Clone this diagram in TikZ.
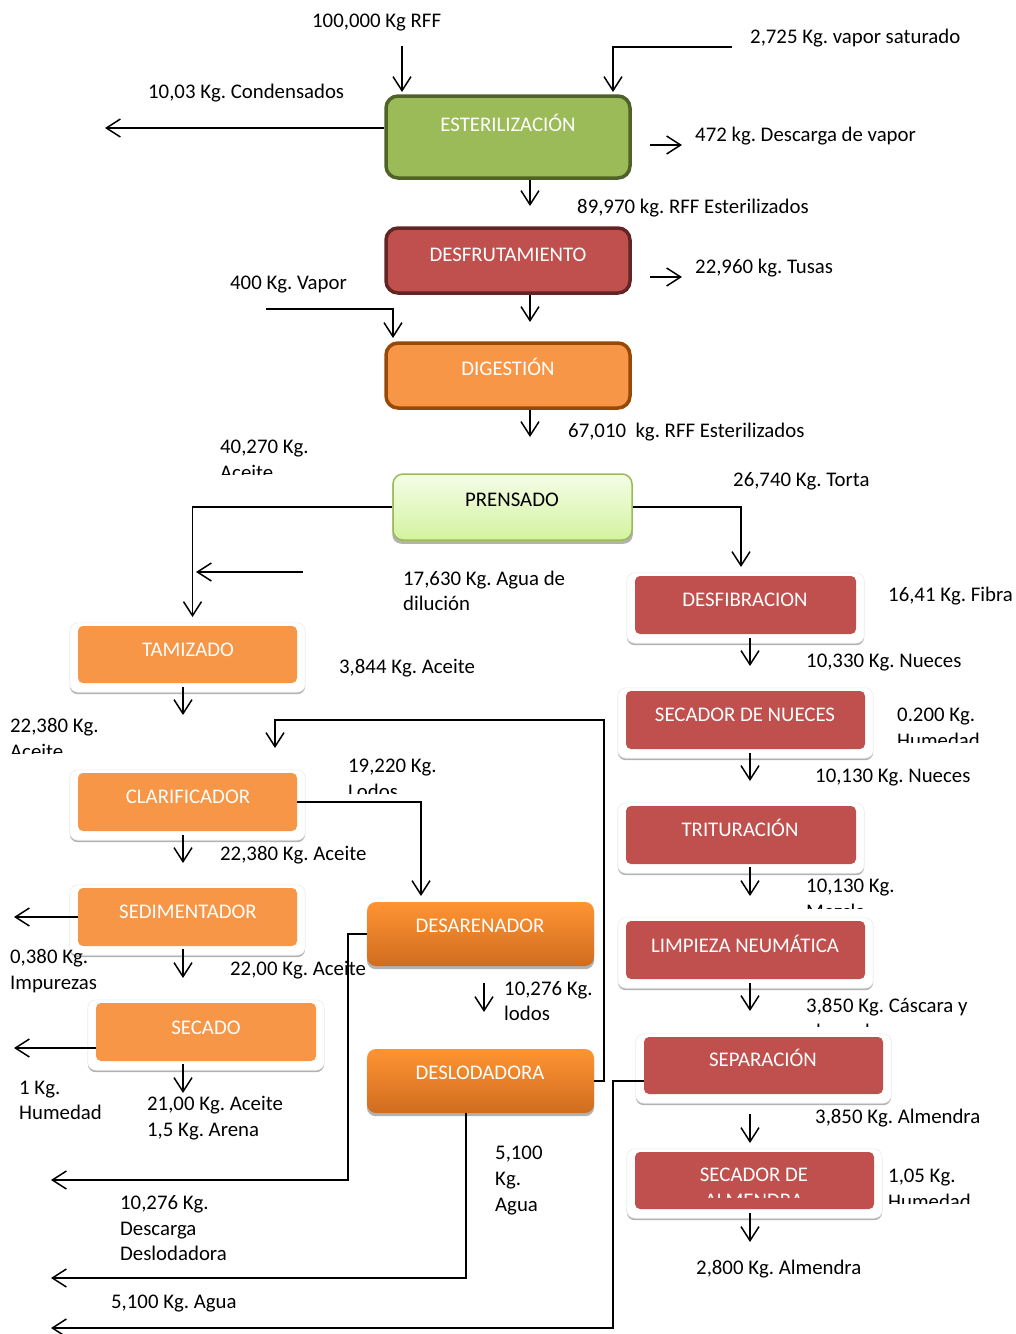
\documentclass[tikz,border=0pt]{standalone}
\usepackage{fontspec}
\setmainfont{Carlito}
\usetikzlibrary{arrows.meta,backgrounds}
\definecolor{grn}{HTML}{9BBB59}
\definecolor{grnd}{HTML}{4F6228}
\definecolor{rd}{HTML}{C0504D}
\definecolor{rdd}{HTML}{632523}
\definecolor{org}{HTML}{F79646}
\definecolor{orgd}{HTML}{984807}
\definecolor{prtop}{HTML}{F4FDE8}
\definecolor{prbot}{HTML}{D3F39E}
\definecolor{dtop}{HTML}{FF9433}
\definecolor{dbot}{HTML}{CF6C1F}
\newcommand\lbfont{\fontsize{20.8}{25.5}\selectfont}
\frenchspacing
\begin{document}
\begin{tikzpicture}[x=1pt,y=-1pt,
  arr/.style={line width=1.5pt,-{Straight Barb[length=14pt,width=18pt,line width=1.5pt]}},
  lbl/.style={font=\lbfont,inner sep=0pt,anchor=base west},
  btxt/.style={font=\lbfont,inner sep=0pt,anchor=base,text=white},
  bigbox/.style={rectangle,rounded corners=12pt,line width=3.5pt,inner sep=0pt,minimum width=244pt,minimum height=65pt},
  flat/.style={rectangle,rounded corners=5pt,inner sep=0pt,minimum height=58pt,fill=#1},
  dbox/.style={rectangle,rounded corners=9pt,top color=dtop,bottom color=dbot,inner sep=0pt,minimum width=227pt,minimum height=64pt},
  prbox/.style={rectangle,rounded corners=10pt,draw=grn,line width=1.5pt,top color=prtop,bottom color=prbot,inner sep=0pt,minimum width=239pt,minimum height=66pt}
]
\useasboundingbox (0,0) rectangle (1016,1334);

% ---------- boxes ----------
\node[bigbox,fill=grn,draw=grnd,minimum height=82pt] (est) at (508,137) {};
\node[bigbox,fill=rd,draw=rdd] (desf) at (508,260.5) {};
\node[bigbox,fill=org,draw=orgd] (dig) at (508,375.5) {};
\node[prbox] (pren) at (512.5,507) {};
\node[flat=org,minimum width=219pt,minimum height=57pt] (tam) at (187.5,654.5) {};
\node[flat=org,minimum width=219pt] (clar) at (187.5,802) {};
\node[flat=org,minimum width=219pt] (sed) at (187.5,917) {};
\node[flat=org,minimum width=220pt] (sec) at (206,1032) {};
\node[dbox] (desa) at (480.5,934) {};
\node[dbox] (deslo) at (480.5,1081) {};
\node[flat=rd,minimum width=221pt] (dfib) at (745.5,605) {};
\node[flat=rd,minimum width=239pt] (snue) at (745.5,720) {};
\node[flat=rd,minimum width=230pt] (trit) at (741,835) {};
\node[flat=rd,minimum width=239pt] (limp) at (745.5,950) {};
\node[flat=rd,minimum width=239pt,minimum height=57pt] (sep) at (763.5,1065.5) {};
\node[flat=rd,minimum width=239pt,minimum height=57pt] (salm) at (754.5,1180.5) {};

\begin{pgfonlayer}{background}
\foreach \n in {tam,clar,sed,sec,dfib,snue,trit,limp,sep,salm}{
  \fill[gray!60,rounded corners=8pt] ([xshift=-8pt,yshift=2pt]\n.north west) rectangle ([xshift=8pt,yshift=-11pt]\n.south east);
  \filldraw[fill=white,draw=gray!15,line width=0.6pt,rounded corners=8pt] ([xshift=-8pt,yshift=3pt]\n.north west) rectangle ([xshift=8pt,yshift=-9pt]\n.south east);
}
\foreach \n in {pren,desa,deslo}{
  \fill[gray!60,rounded corners=9pt] ([yshift=-3pt]\n.north west) rectangle ([yshift=-3pt]\n.south east);
}
\end{pgfonlayer}

% ---------- box texts ----------
\node[btxt] (estt) at (508,131.5) {ESTERILIZACIÓN};
\node[btxt] (desft) at (508,261.5) {DESFRUTAMIENTO};
\node[btxt] (digt) at (508,375.5) {DIGESTIÓN};
\node[btxt,text=black] (prent) at (512,506.5) {PRENSADO};
\node[btxt] (tamt) at (188,656.5) {TAMIZADO};
\node[btxt] (clart) at (188,803.5) {CLARIFICADOR};
\node[btxt] (sedt) at (188,918.5) {SEDIMENTADOR};
\node[btxt] (sect) at (206,1034.5) {SECADO};
\node[btxt] (desat) at (480,932.5) {DESARENADOR};
\node[btxt] (deslot) at (480,1079.5) {DESLODADORA};
\node[btxt] (dfibt) at (745,606.5) {DESFIBRACION};
\node[btxt] (snuet) at (745,721.5) {SECADOR DE NUECES};
\node[btxt] (tritt) at (740,836.5) {TRITURACIÓN};
\node[btxt] (limpt) at (745,952.5) {LIMPIEZA NEUMÁTICA};
\node[btxt] (sept) at (763,1066.5) {SEPARACIÓN};
\node[btxt] (salmt) at (754,1181.5) {SECADOR DE};
\begin{scope}
\clip (640,1150) rectangle (870,1197);
\node[btxt] (salmt2) at (754,1207) {ALMENDRA};
\end{scope}

% ---------- connectors ----------
\coordinate (rffa) at (402,46); \coordinate (rffb) at (402,92);
\draw[arr] (rffa) -- (rffb);
\coordinate (vapa) at (732,47); \coordinate (vapb) at (613,92);
\draw[arr] (vapa) -| (vapb);
\coordinate (conda) at (105,128);
\draw[arr] (est.west |- conda) -- (conda);
\coordinate (d472a) at (650,145); \coordinate (d472b) at (682,145);
\draw[arr] (d472a) -- (d472b);
\coordinate (e1) at (530,206);
\draw[arr] (est.south -| e1) -- (e1);
\coordinate (tusa) at (650,277); \coordinate (tusb) at (682,277);
\draw[arr] (tusa) -- (tusb);
\coordinate (v4a) at (266,309); \coordinate (v4b) at (393,338);
\draw[arr] (v4a) -| (v4b);
\coordinate (e2) at (530,322);
\draw[arr] (desf.south -| e2) -- (e2);
\coordinate (e3) at (530,437);
\draw[arr] (dig.south -| e3) -- (e3);
\coordinate (tamin) at (192.5,617);
\draw[arr] (pren.west) -| (tamin);
\coordinate (aguaa) at (303,572); \coordinate (aguab) at (196,572);
\draw[arr] (aguaa) -- (aguab);
\coordinate (dfin) at (741,567);
\draw[arr] (pren.east) -| (dfin);
\coordinate (t1a) at (183,687); \coordinate (t1b) at (183,715);
\draw[arr] (t1a) -- (t1b);
\coordinate (ra) at (604,720); \coordinate (rb) at (275,748);
\draw[arr] (deslo.east) -| (ra) -| (rb);
\coordinate (c1a) at (183,835); \coordinate (c1b) at (183,863);
\draw[arr] (c1a) -- (c1b);
\coordinate (lodb) at (421,896);
\draw[arr] (clar.east) -| (lodb);
\coordinate (impb) at (14,917);
\draw[arr] (sed.west) -- (impb);
\coordinate (s1a) at (183,949); \coordinate (s1b) at (183,978);
\draw[arr] (s1a) -- (s1b);
\coordinate (dsc1) at (348,1180); \coordinate (dscb) at (51,1180);
\draw[arr] (desa.west) -| (dsc1) -- (dscb);
\coordinate (l1a) at (484,983); \coordinate (l1b) at (484,1012);
\draw[arr] (l1a) -- (l1b);
\coordinate (humb) at (14,1048);
\draw[arr] (sec.west |- humb) -- (humb);
\coordinate (sc1a) at (183,1064); \coordinate (sc1b) at (183,1093);
\draw[arr] (sc1a) -- (sc1b);
\coordinate (w1) at (466,1278); \coordinate (wb) at (51,1278);
\draw[arr] (deslo.south -| w1) -- (w1) -- (wb);
\coordinate (sp1) at (613,1081); \coordinate (sp2) at (613,1328); \coordinate (spb) at (51,1328);
\draw[arr] (sep.west |- sp1) -- (sp1) -- (sp2) -- (spb);
\coordinate (r1a) at (750,638); \coordinate (r1b) at (750,666);
\draw[arr] (r1a) -- (r1b);
\coordinate (r2a) at (750,753); \coordinate (r2b) at (750,781);
\draw[arr] (r2a) -- (r2b);
\coordinate (r3a) at (750,867); \coordinate (r3b) at (750,896);
\draw[arr] (r3a) -- (r3b);
\coordinate (r4a) at (750,983); \coordinate (r4b) at (750,1011);
\draw[arr] (r4a) -- (r4b);
\coordinate (r5a) at (750,1114); \coordinate (r5b) at (750,1143);
\draw[arr] (r5a) -- (r5b);
\coordinate (r6a) at (750,1213); \coordinate (r6b) at (750,1242);
\draw[arr] (r6a) -- (r6b);

% ---------- labels ----------
\node[lbl] (l1) at (312,27.5) {100,000 Kg RFF};
\node[lbl] (l2) at (750,43.5) {2,725 Kg. vapor saturado};
\node[lbl] (l3) at (148,98.5) {10,03 Kg. Condensados};
\node[lbl] (l4) at (695,141.5) {472 kg. Descarga de vapor};
\node[lbl] (l5) at (577,213.5) {89,970 kg. RFF Esterilizados};
\node[lbl] (l6) at (695,273.5) {22,960 kg. Tusas};
\node[lbl] (l7) at (230,289.5) {400 Kg. Vapor};
\node[lbl] (l8) at (568,437.5) {67,010~~kg. RFF Esterilizados};
\begin{scope}
\clip (210,430) rectangle (340,474);
\node[lbl] (l9a) at (220,453.5) {40,270 Kg.};
\node[lbl] (l9b) at (220,479) {Aceite};
\end{scope}
\node[lbl] (l10) at (733,486.5) {26,740 Kg. Torta};
\node[lbl] (l11a) at (403,585.5) {17,630 Kg. Agua de};
\node[lbl] (l11b) at (403,610.5) {dilución};
\node[lbl] (l12) at (339,673.5) {3,844 Kg. Aceite};
\begin{scope}
\clip (0,710) rectangle (130,753);
\node[lbl] (l13a) at (10,732.5) {22,380 Kg.};
\node[lbl] (l13b) at (10,758) {Aceite};
\end{scope}
\begin{scope}
\clip (340,750) rectangle (470,793);
\node[lbl] (l14a) at (348,772.5) {19,220 Kg.};
\node[lbl] (l14b) at (348,798) {Lodos};
\end{scope}
\node[lbl] (l15) at (220,860.5) {22,380 Kg. Aceite};
\node[lbl] (l16a) at (10,963.5) {0,380 Kg.};
\node[lbl] (l16b) at (10,989.5) {Impurezas};
\node[lbl] (l17) at (230,975.5) {22,00 Kg. Aceite};
\node[lbl] (l18a) at (504,995.5) {10,276 Kg.};
\node[lbl] (l18b) at (504,1020) {lodos};
\node[lbl] (l19a) at (19,1094.5) {1 Kg.};
\node[lbl] (l19b) at (19,1119.5) {Humedad};
\node[lbl] (l20a) at (147,1110.5) {21,00 Kg. Aceite};
\node[lbl] (l20b) at (147,1136) {1,5 Kg. Arena};
\node[lbl] (l21a) at (495,1159.5) {5,100};
\node[lbl] (l21b) at (495,1185) {Kg.};
\node[lbl] (l21c) at (495,1211) {Agua};
\node[lbl] (l22a) at (120,1209.5) {10,276 Kg.};
\node[lbl] (l22b) at (120,1235) {Descarga};
\node[lbl] (l22c) at (120,1260) {Deslodadora};
\node[lbl] (l23) at (111,1308.5) {5,100 Kg. Agua};
\node[lbl] (l24) at (888,601.5) {16,41 Kg. Fibra};
\node[lbl] (l25) at (806,667.5) {10,330 Kg. Nueces};
\begin{scope}
\clip (890,700) rectangle (1016,742);
\node[lbl] (l26a) at (897,721.5) {0.200 Kg.};
\node[lbl] (l26b) at (897,747) {Humedad};
\end{scope}
\node[lbl] (l27) at (815,782.5) {10,130 Kg. Nueces};
\begin{scope}
\clip (800,870) rectangle (940,908);
\node[lbl] (l28a) at (806,892.5) {10,130 Kg.};
\node[lbl] (l28b) at (806,918) {Mezcla};
\end{scope}
\begin{scope}
\clip (800,990) rectangle (1000,1026);
\node[lbl] (l29a) at (806,1012.5) {3,850 Kg. Cáscara y};
\node[lbl] (l29b) at (806,1038) {almendra};
\end{scope}
\node[lbl] (l30) at (815,1123.5) {3,850 Kg. Almendra};
\begin{scope}
\clip (880,1160) rectangle (1016,1203);
\node[lbl] (l31a) at (888,1182.5) {1,05 Kg.};
\node[lbl] (l31b) at (888,1208) {Humedad};
\end{scope}
\node[lbl] (l32) at (696,1274.5) {2,800 Kg. Almendra};
\end{tikzpicture}
\end{document}
